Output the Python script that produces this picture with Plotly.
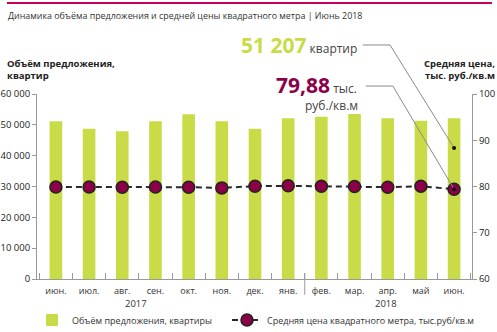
import plotly.graph_objects as go

months = ["июн.", "июл.", "авг.", "сен.", "окт.", "ноя.", "дек.", "янв.", "фев.", "мар.", "апр.", "май", "июн."]
cats = [f"{m}_{i}" for i, m in enumerate(months)]
supply = [51200, 48700, 47900, 51200, 53400, 51200, 48700, 52100, 52600, 53500, 52100, 51300, 52100]
price = [79.9, 79.9, 79.85, 79.9, 79.85, 79.7, 80.07, 80.15, 80.07, 80.0, 79.85, 80.07, 79.4]
years = ["2017", "2018"]
y1_ticks = [0, 10000, 20000, 30000, 40000, 50000, 60000]
y1_text = ["0", "10 000", "20 000", "30 000", "40 000", "50 000", "60 000"]
y2_ticks = [60, 70, 80, 90, 100]

GREEN = "#c9dc48"
MAROON = "#8c0048"
FONT = "Open Sans"

XMIN, XMAX = -0.57, 12.54
Y2MIN, Y2MAX = 60, 100

fig = go.Figure()
fig.add_trace(go.Bar(x=cats, y=supply, marker=dict(color=GREEN, line=dict(width=0)),
                     width=0.38, name="Объём предложения, квартиры", yaxis="y",
                     legend="legend"))
fig.add_trace(go.Scatter(x=cats, y=price, mode="lines+markers", yaxis="y2",
                         name="Средняя цена квадратного метра, тыс.руб/кв.м",
                         line=dict(color="#2a2a2a", width=2, dash="6px,4px"),
                         marker=dict(size=12, color=MAROON, line=dict(color="#222", width=1.5)),
                         legend="legend2"))

def px(xv):
    return (xv - XMIN) / (XMAX - XMIN)

def py2(v):
    return (v - Y2MIN) / (Y2MAX - Y2MIN)

last = len(cats) - 1
end1 = (px(last), 0.708)
end2 = (px(last), py2(price[-1]))

shapes = [
    dict(type="line", xref="paper", yref="paper", x0=-0.069, x1=1.046, y0=1.492, y1=1.492,
         line=dict(color="#c8005a", width=2)),
    dict(type="line", xref="paper", yref="paper", x0=px(7.5), x1=px(7.5), y0=0.032, y1=-0.085,
         line=dict(color="#999", width=1)),
    dict(type="path", xref="paper", yref="paper",
         path=f"M 0.749 1.265 L 0.8115 1.265 L {end1[0]} {end1[1]}",
         line=dict(color="#8a8a8a", width=1)),
    dict(type="path", xref="paper", yref="paper",
         path=f"M 0.756 1.043 L 0.818 1.043 L {end2[0]} {end2[1]}",
         line=dict(color="#8a8a8a", width=1)),
]
for (ex, ey) in (end1, end2):
    r = 2 / 435
    ry = 2 / 185
    shapes.append(dict(type="circle", xref="paper", yref="paper", x0=ex - r, x1=ex + r,
                       y0=ey - ry, y1=ey + ry, fillcolor="#111", line=dict(width=0)))

annotations = [
    dict(text="Динамика объёма предложения и средней цены квадратного метра | Июнь 2018",
         xref="paper", yref="paper", x=-0.071, y=1.427, xanchor="left", yanchor="middle",
         showarrow=False, font=dict(size=8.9, color="#333")),
    dict(text="<b>Объём предложения,<br>квартир</b>", xref="paper", yref="paper",
         x=-0.074, y=1.055, xanchor="left", yanchor="bottom", align="left", showarrow=False,
         font=dict(size=9.5, color="#222")),
    dict(text="<b>Средняя цена,<br>тыс. руб./кв.м</b>", xref="paper", yref="paper",
         x=1.058, y=1.055, xanchor="right", yanchor="bottom", align="right", showarrow=False,
         font=dict(size=9.5, color="#222")),
    dict(text=f"<b><span style='font-size:21px;color:{GREEN}'>51 207</span></b> квартир",
         xref="paper", yref="paper", x=0.740, y=1.265, xanchor="right", yanchor="middle",
         showarrow=False, font=dict(size=12, color="#444")),
    dict(text=f"<b><span style='font-size:21px;color:{MAROON}'>79,88</span></b> тыс.",
         xref="paper", yref="paper", x=0.740, y=1.048, xanchor="right", yanchor="middle",
         showarrow=False, font=dict(size=12, color="#444")),
    dict(text="руб./кв.м", xref="paper", yref="paper", x=0.742, y=0.937, xanchor="right",
         yanchor="middle", showarrow=False, font=dict(size=12, color="#444")),
    dict(text=years[0], xref="paper", yref="paper", x=px(2.4), y=-0.135, xanchor="center",
         yanchor="middle", showarrow=False, font=dict(size=9.5, color="#333")),
    dict(text=years[1], xref="paper", yref="paper", x=px(9.95), y=-0.135, xanchor="center",
         yanchor="middle", showarrow=False, font=dict(size=9.5, color="#333")),
]

leg_common = dict(orientation="h", xref="container", yref="container", xanchor="left",
                  yanchor="middle", font=dict(size=9, color="#333"),
                  bgcolor="rgba(0,0,0,0)", itemwidth=30)

fig.update_layout(
    width=497, height=332,
    margin=dict(l=37, r=25, t=94, b=53, autoexpand=False),
    paper_bgcolor="white", plot_bgcolor="white",
    font=dict(family=FONT, color="#333", size=9.5),
    showlegend=True,
    legend=dict(x=32 / 497, y=1 - 320 / 332, **leg_common),
    legend2=dict(x=227 / 497, y=1 - 320 / 332, **leg_common),
    xaxis=dict(type="category", range=[XMIN, XMAX], tickmode="array", tickvals=cats,
               ticktext=months, tickson="boundaries", ticks="inside", ticklen=6,
               tickcolor="#999", showline=True, linecolor="#999", linewidth=1,
               showgrid=False, zeroline=False, tickfont=dict(size=9, color="#333"),
               ticklabelstandoff=3, automargin=False),
    yaxis=dict(range=[0, 60000], tickvals=y1_ticks, ticktext=y1_text, ticks="outside",
               ticklen=4, tickcolor="#999", showline=True, linecolor="#999", linewidth=1,
               showgrid=False, zeroline=False, tickfont=dict(size=9.5, color="#222"),
               automargin=False),
    yaxis2=dict(range=[Y2MIN, Y2MAX], tickvals=y2_ticks, overlaying="y", side="right",
                ticks="outside", ticklen=4, tickcolor="#999", showline=True,
                linecolor="#999", linewidth=1, showgrid=False, zeroline=False,
                tickfont=dict(size=9.5, color="#222"), automargin=False),
    shapes=shapes,
    annotations=annotations,
)

fig.write_html("out.html")
